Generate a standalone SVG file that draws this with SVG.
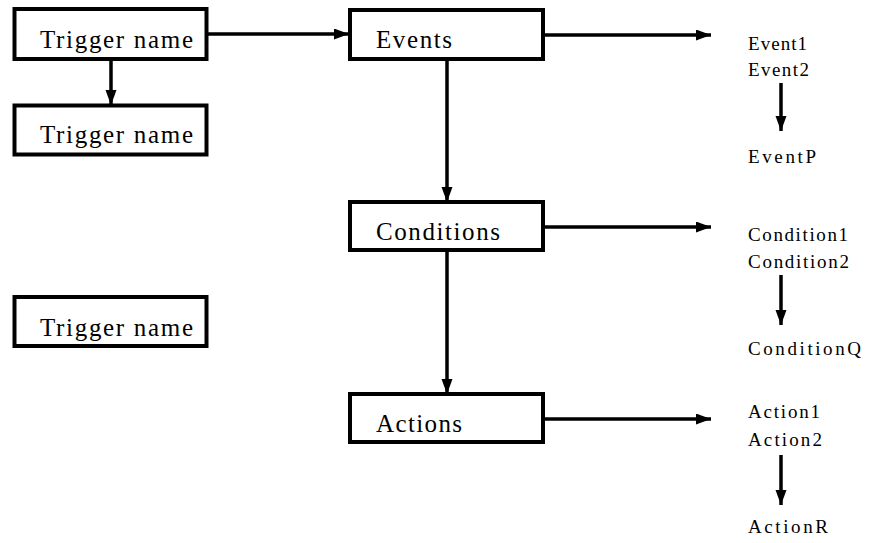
<svg xmlns="http://www.w3.org/2000/svg" width="869" height="543" viewBox="0 0 869 543">
<style>
.box{fill:#fff;stroke:#000;stroke-width:4}
.c{stroke:#000;stroke-width:3.5;fill:none}
</style>
<defs>
<marker id="ah" markerUnits="userSpaceOnUse" markerWidth="16" markerHeight="13" refX="15" refY="5.5" orient="auto">
<path d="M0,0 L15,5.5 L0,11 z" fill="#000"/>
</marker>
</defs>
<rect width="869" height="543" fill="#fff"/>
<g id="connectors">
<line class="c" x1="207" y1="34" x2="349" y2="34" marker-end="url(#ah)"/>
<line class="c" x1="111" y1="59" x2="111" y2="105" marker-end="url(#ah)"/>
<line class="c" x1="447" y1="59" x2="447" y2="202" marker-end="url(#ah)"/>
<line class="c" x1="447" y1="250" x2="447" y2="394" marker-end="url(#ah)"/>
<line class="c" x1="543" y1="35" x2="711" y2="35" marker-end="url(#ah)"/>
<line class="c" x1="543" y1="227" x2="711" y2="227" marker-end="url(#ah)"/>
<line class="c" x1="543" y1="419" x2="711" y2="419" marker-end="url(#ah)"/>
<line class="c" x1="781" y1="83" x2="781" y2="131" marker-end="url(#ah)"/>
<line class="c" x1="781" y1="275" x2="781" y2="325" marker-end="url(#ah)"/>
<line class="c" x1="781" y1="455" x2="781" y2="505" marker-end="url(#ah)"/>
</g>
<g font-family="Liberation Serif, DejaVu Serif, Times New Roman, serif" font-size="25" fill="#000">
<g id="trigger1"><rect class="box" x="14.5" y="9" width="192" height="50"/><text x="40" y="48" textLength="153" lengthAdjust="spacing">Trigger name</text></g>
<g id="trigger2"><rect class="box" x="14.5" y="105.5" width="192" height="49"/><text x="40" y="143" textLength="153" lengthAdjust="spacing">Trigger name</text></g>
<g id="trigger3"><rect class="box" x="14.5" y="297" width="192" height="49"/><text x="40" y="336" textLength="153" lengthAdjust="spacing">Trigger name</text></g>
<g id="events"><rect class="box" x="350" y="10" width="193" height="49"/><text x="376" y="48" textLength="76" lengthAdjust="spacing">Events</text></g>
<g id="conditions"><rect class="box" x="350" y="202" width="193" height="48"/><text x="376" y="240" textLength="124" lengthAdjust="spacing">Conditions</text></g>
<g id="actions"><rect class="box" x="350" y="394" width="193" height="48"/><text x="376" y="432" textLength="86" lengthAdjust="spacing">Actions</text></g>
</g>
<g font-family="Liberation Serif, DejaVu Serif, Times New Roman, serif" font-size="19" fill="#000">
<g id="event-list">
<text x="748" y="50" textLength="59" lengthAdjust="spacing">Event1</text>
<text x="748" y="76" textLength="61" lengthAdjust="spacing">Event2</text>
<text x="748" y="163" textLength="68" lengthAdjust="spacing">EventP</text>
</g>
<g id="condition-list">
<text x="748" y="241" textLength="100" lengthAdjust="spacing">Condition1</text>
<text x="748" y="268" textLength="101" lengthAdjust="spacing">Condition2</text>
<text x="748" y="355" textLength="113" lengthAdjust="spacing">ConditionQ</text>
</g>
<g id="action-list">
<text x="748" y="418" textLength="72" lengthAdjust="spacing">Action1</text>
<text x="748" y="446" textLength="74" lengthAdjust="spacing">Action2</text>
<text x="748" y="533" textLength="80" lengthAdjust="spacing">ActionR</text>
</g>
</g>
</svg>
